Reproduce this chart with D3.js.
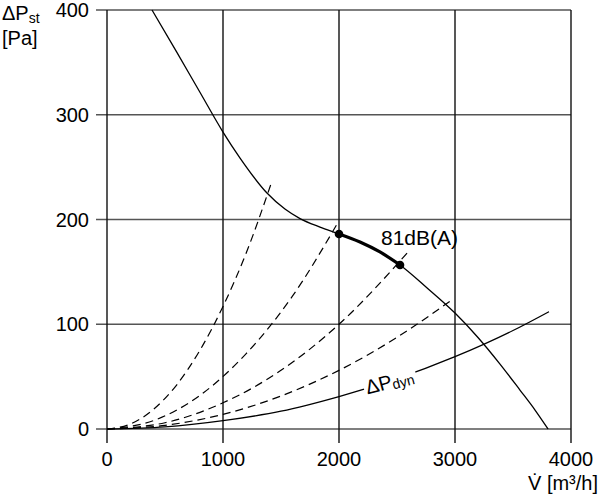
<!DOCTYPE html>
<html><head><meta charset="utf-8">
<script src="https://cdn.jsdelivr.net/npm/d3@7"></script>
<style>body{margin:0;background:#fff;}svg{display:block;font-family:"Liberation Sans",Arial,sans-serif;}</style>
</head><body>
<svg id="c" width="600" height="500"></svg>
<script>
const xTicks = [0, 1000, 2000, 3000, 4000];
const yTicks = [0, 100, 200, 300, 400];
// fan curve (static pressure vs flow)
const fanV = [388, 600, 800, 1000, 1147, 1379, 1534, 1664, 1836, 2000, 2181, 2353, 2526, 2750, 3000, 3198, 3388, 3560, 3690, 3802];
const fanP = [400, 360, 321.7, 283.5, 258.7, 225.3, 210, 200.9, 192.8, 186.2, 178.5, 169, 156.6, 135.6, 110.7, 87.4, 62, 37.2, 18.1, 0];
// highlighted operating range
const opV = [2000, 2181, 2353, 2526];
const opP = [186.2, 178.5, 169, 156.6];
// dynamic pressure curve
const dynV = [0, 500, 1000, 1500, 2000, 2500, 3000, 3500, 3810];
const dynP = [0, 2, 8, 17, 31, 48, 69, 94, 112];
// system curves (dashed)
const sys1V = [0, 200, 400, 600, 800, 1000, 1200, 1414];
const sys1P = [0, 4.7, 18.7, 42, 75, 117, 168, 234];
const sys2V = [0, 400, 800, 1200, 1600, 1980];
const sys2P = [0, 8, 32, 72, 127, 195];
const sys3V = [0, 500, 1000, 1500, 2000, 2612];
const sys3P = [0, 6, 25, 56, 100, 171];
const sys4V = [0, 500, 1000, 1500, 2000, 2500, 2957];
const sys4P = [0, 3.5, 14, 31.5, 56, 87.5, 122];
const pointV = [2000, 2526];
const pointP = [186.2, 156.6];

const svg = d3.select("#c");
const x = d3.scaleLinear().domain([0, 4000]).range([107, 571]);
const y = d3.scaleLinear().domain([0, 400]).range([429, 10]);
const zip = (a, b) => a.map((v, i) => [v, b[i]]);
const smooth = d3.line().x(d => x(d[0])).y(d => y(d[1])).curve(d3.curveMonotoneX);

// horizontal grid (gray) with ticks extending left
svg.append("g").selectAll("line").data(yTicks).join("line")
  .attr("x1", 96).attr("x2", 571).attr("y1", d => y(d)).attr("y2", d => y(d))
  .attr("stroke", "#555").attr("stroke-width", 1.4);
// vertical grid (black) with ticks extending down
svg.append("g").selectAll("line").data(xTicks).join("line")
  .attr("x1", d => x(d)).attr("x2", d => x(d)).attr("y1", 10).attr("y2", 443)
  .attr("stroke", "#111").attr("stroke-width", 1.4);

// tick labels
svg.append("g").selectAll("text").data(yTicks).join("text")
  .attr("x", 89).attr("y", d => y(d) + 7).attr("text-anchor", "end")
  .attr("font-size", 20).text(d => d);
svg.append("g").selectAll("text").data(xTicks).join("text")
  .attr("x", d => x(d)).attr("y", 466).attr("text-anchor", "middle")
  .attr("font-size", 20).text(d => d);

// dashed system curves
[[sys1V, sys1P], [sys2V, sys2P], [sys3V, sys3P], [sys4V, sys4P]].forEach(([v, p]) => {
  svg.append("path").attr("d", smooth(zip(v, p))).attr("fill", "none")
    .attr("stroke", "#000").attr("stroke-width", 1.2).attr("stroke-dasharray", "8,5");
});

// dynamic pressure curve
svg.append("path").attr("d", smooth(zip(dynV, dynP))).attr("fill", "none")
  .attr("stroke", "#000").attr("stroke-width", 1.3);

// fan curve
svg.append("path").attr("d", smooth(zip(fanV, fanP))).attr("fill", "none")
  .attr("stroke", "#000").attr("stroke-width", 1.3);
svg.append("path").attr("d", smooth(zip(opV, opP))).attr("fill", "none")
  .attr("stroke", "#000").attr("stroke-width", 3.2);
svg.append("g").selectAll("circle").data(zip(pointV, pointP)).join("circle")
  .attr("cx", d => x(d[0])).attr("cy", d => y(d[1])).attr("r", 4.3).attr("fill", "#000");

// labels
svg.append("text").attr("x", 381).attr("y", 245).attr("font-size", 21).text("81dB(A)");

const dl = svg.append("g").attr("transform", "translate(388,386) rotate(-15)");
dl.append("rect").attr("x", -24).attr("y", -16).attr("width", 54).attr("height", 23).attr("fill", "#fff");
const dt = dl.append("text").attr("x", -22).attr("y", 3).attr("font-size", 20);
dt.append("tspan").text("ΔP");
dt.append("tspan").attr("font-size", 14).attr("dy", 2).text("dyn");

const yl = svg.append("text").attr("x", 2).attr("y", 20).attr("font-size", 20);
yl.append("tspan").text("ΔP");
yl.append("tspan").attr("font-size", 14).attr("dy", 3).text("st");
svg.append("text").attr("x", 2).attr("y", 45).attr("font-size", 20).text("[Pa]");

svg.append("text").attr("x", 598).attr("y", 490).attr("text-anchor", "end").attr("font-size", 20).text("V̇ [m³/h]");
</script>
</body></html>
